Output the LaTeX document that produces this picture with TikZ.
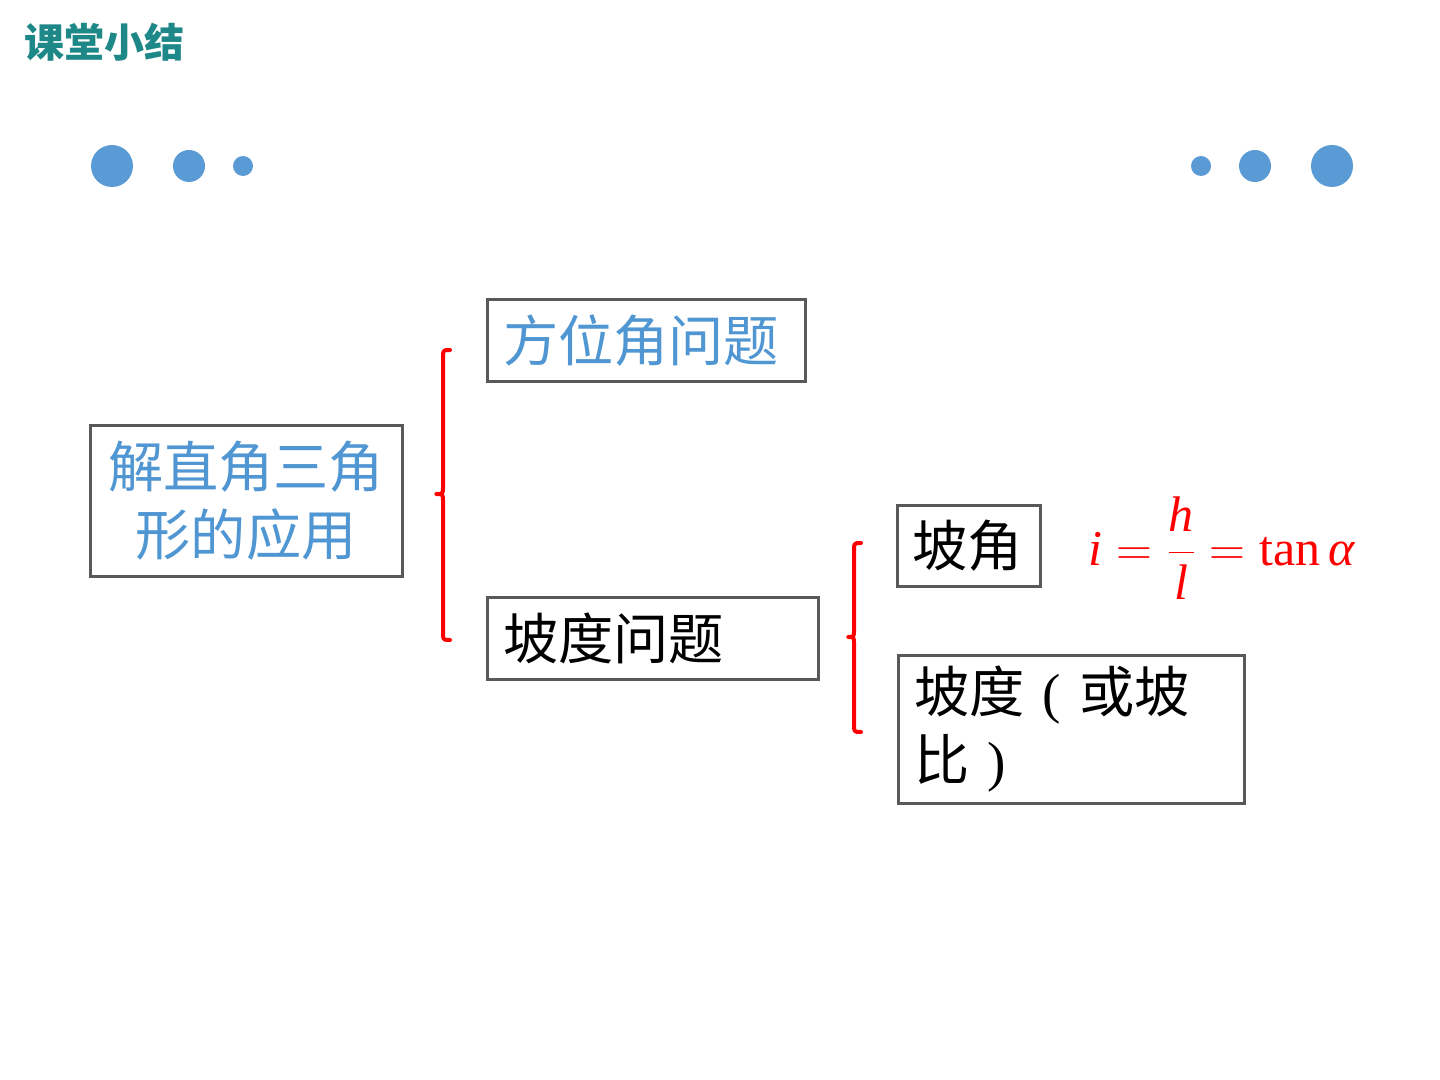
\documentclass[tikz,border=0pt]{standalone}
\usepackage{fontspec}
\setmainfont{Liberation Serif}
\newfontfamily\cjk{Noto Sans CJK SC}
\definecolor{teal1}{RGB}{30,135,135}
\definecolor{dotblue}{RGB}{91,155,213}
\definecolor{txtblue}{RGB}{80,150,210}
\definecolor{boxgray}{RGB}{89,89,89}
\begin{document}
\begin{tikzpicture}[x=0.5pt,y=-0.5pt,
  box/.style={draw=boxgray,line width=1.5pt,inner sep=0pt,font=\cjk\fontsize{27.6}{34}\selectfont},
  dot/.style={fill=dotblue,draw=none},
  brace/.style={draw=red,line width=2pt,line cap=round,line join=round}]
\useasboundingbox (0,0) rectangle (1440,1080);
\fill[white] (0,0) rectangle (1440,1080);
\node[anchor=west,text=teal1,font=\cjk\bfseries\fontsize{20}{24}\selectfont,inner sep=0pt] (title) at (24,42) {课堂小结};
% dots
\fill[dot] (112,166) circle (21);
\fill[dot] (189,166) circle (16);
\fill[dot] (243,166) circle (10);
\fill[dot] (1201,166) circle (10);
\fill[dot] (1255,166) circle (16);
\fill[dot] (1332,166) circle (21);
% boxes
\node[box,minimum width=156pt,minimum height=75pt,align=center,text=txtblue] (main) at (246,501) {解直角三角\\形的应用};
\node[box,minimum width=159pt,minimum height=41pt,text width=143pt,align=left,text=txtblue] (fw) at (646,341) {方位角问题};
\node[box,minimum width=165.5pt,minimum height=41pt,text width=149.5pt,align=left] (pd) at (652.5,638) {坡度问题};
\node[box,minimum width=71.5pt,minimum height=40.5pt,text width=56pt,align=left] (pj) at (968.5,545.5) {坡角};
\node[box,minimum width=173pt,minimum height=74pt,text width=157pt,align=left] (pb) at (1071,729) {\raisebox{-3pt}{坡度 {\rmfamily(} 或坡}\\\raisebox{-3pt}{比 {\rmfamily)}}};
% formula
\node[text=red,inner sep=0pt,font=\fontsize{25}{30}\selectfont] (f) at (1222,548) {$\displaystyle \textit{i}\mathrel{=}\frac{\textit{h}}{\textit{l}}\mathrel{=}\mbox{tan}\,\textit{α}$};
% braces
\coordinate (b1t) at (450,350);
\coordinate (b1m) at (436,494);
\coordinate (b1b) at (450,640);
\draw[brace] (b1t) .. controls (443,350) .. (443,358) -- (443,487) .. controls (443,494) .. (b1m) .. controls (443,494) .. (443,501) -- (443,632) .. controls (443,640) .. (b1b);
\coordinate (b2t) at (861,543);
\coordinate (b2m) at (848,637);
\coordinate (b2b) at (861,732);
\draw[brace] (b2t) .. controls (854,543) .. (854,551) -- (854,630) .. controls (854,637) .. (b2m) .. controls (854,637) .. (854,644) -- (854,724) .. controls (854,732) .. (b2b);
\end{tikzpicture}
\end{document}
